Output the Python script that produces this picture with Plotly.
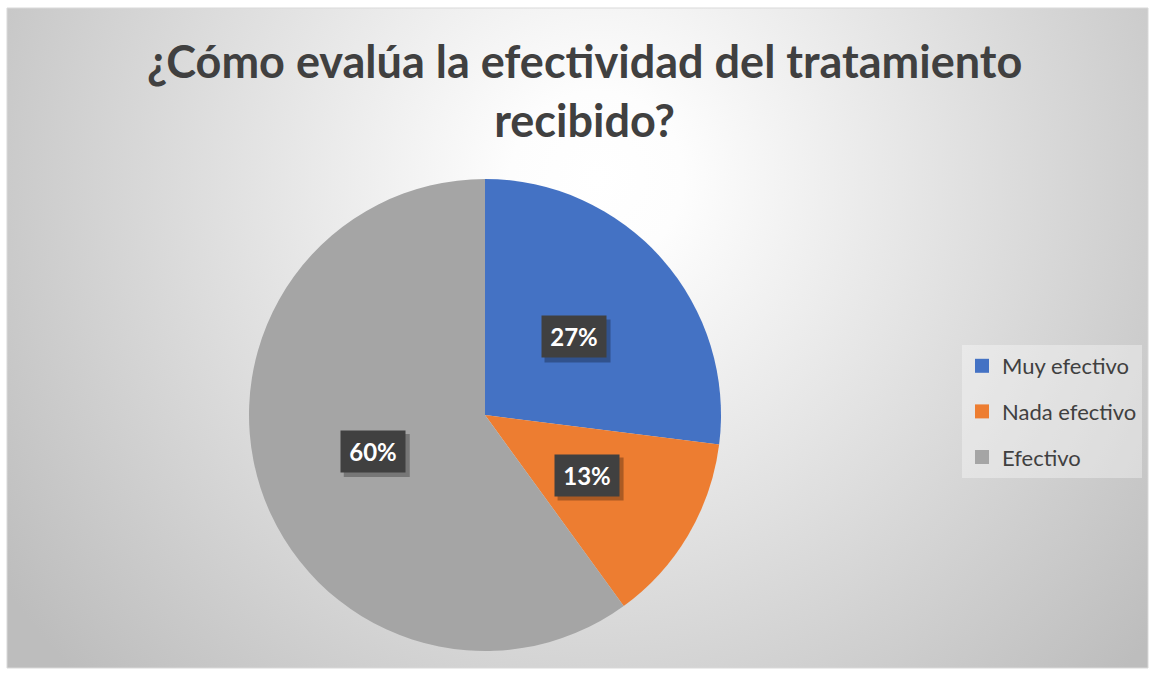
import base64
import numpy as np
import plotly.graph_objects as go

# ---- data ----
categories = ["Muy efectivo", "Nada efectivo", "Efectivo"]
values = [27, 13, 60]
colors = ["#4472C4", "#ED7D31", "#A5A5A5"]
title_lines = ["¿Cómo evalúa la efectividad del tratamiento", "recibido?"]

W, H = 1155, 675
FONT = "Lato"

# pie geometry (pixels)
pie_cx, pie_cy, pie_r = 485, 415, 236
dom_x = [(pie_cx - pie_r) / W, (pie_cx + pie_r) / W]
dom_y = [1 - (pie_cy + pie_r) / H, 1 - (pie_cy - pie_r) / H]

fig = go.Figure()
fig.add_trace(go.Pie(
    labels=categories, values=values, sort=False, direction="clockwise",
    rotation=0, marker=dict(colors=colors, line=dict(width=0)),
    textinfo="none", hoverinfo="label+percent", showlegend=False,
    domain=dict(x=dom_x, y=dom_y),
))

# legend entries
for cat, col in zip(categories, colors):
    fig.add_trace(go.Scatter(
        x=[None], y=[None], mode="markers", name=cat, legendgroup=cat,
        marker=dict(symbol="square", size=14, color=col),
    ))

# percent labels in dark boxes at slice centres
vals = np.array(values, dtype=float)
frac = vals / vals.sum()
mids = (np.cumsum(frac) - frac / 2) * 2 * np.pi
annotations = []
shapes = []
BOX_W, BOX_H, SH = 66, 43, 4
for f, a in zip(frac, mids):
    px = pie_cx + 0.5 * pie_r * np.sin(a)
    py = pie_cy - 0.5 * pie_r * np.cos(a)
    txt = f"<b>{round(f * 100):.0f}%</b>"
    shapes.append(dict(type="rect", xref="paper", yref="paper", layer="above",
                       x0=(px - BOX_W / 2 + SH) / W, x1=(px + BOX_W / 2 + SH) / W,
                       y0=1 - (py + BOX_H / 2 + SH) / H, y1=1 - (py - BOX_H / 2 + SH) / H,
                       fillcolor="rgba(0,0,0,0.28)", line=dict(width=0)))
    annotations.append(dict(text=txt, x=px / W, y=1 - py / H, xref="paper", yref="paper",
                            showarrow=False, xanchor="center", yanchor="middle",
                            width=BOX_W - 2, height=BOX_H - 2, borderpad=0,
                            font=dict(family=FONT, size=24, color="white"),
                            bgcolor="#404040"))

# title
annotations.append(dict(
    text="<b>" + "<br>".join(title_lines) + "</b>", x=585 / W, y=1 - 32 / H,
    xref="paper", yref="paper", xanchor="center", yanchor="top", showarrow=False,
    font=dict(family=FONT, size=45, color="#404040"),
))

# background gradient image
bx0, by0, bx1, by1 = 7, 8, 1148, 668
bw, bh = bx1 - bx0, by1 - by0
svg = f'''<svg xmlns="http://www.w3.org/2000/svg" width="{bw}" height="{bh}" viewBox="0 0 {bw} {bh}">
<defs><radialGradient id="g" gradientUnits="userSpaceOnUse" cx="590" cy="170" r="720">
<stop offset="0" stop-color="#ffffff"/><stop offset="0.12" stop-color="#fdfdfd"/>
<stop offset="1" stop-color="#bdbdbd"/></radialGradient></defs>
<rect width="{bw}" height="{bh}" fill="url(#g)"/></svg>'''
src = "data:image/svg+xml;base64," + base64.b64encode(svg.encode()).decode()

shapes.append(dict(type="rect", xref="paper", yref="paper", x0=bx0 / W, x1=bx1 / W,
                   y0=1 - by1 / H, y1=1 - by0 / H, layer="below",
                   line=dict(color="#D9D9D9", width=1)))

fig.update_layout(
    width=W, height=H, margin=dict(l=0, r=0, t=0, b=0),
    paper_bgcolor="white", plot_bgcolor="rgba(0,0,0,0)",
    xaxis=dict(visible=False), yaxis=dict(visible=False),
    images=[dict(source=src, xref="paper", yref="paper", x=bx0 / W, y=1 - by0 / H,
                 sizex=bw / W, sizey=bh / H, sizing="stretch", layer="below",
                 xanchor="left", yanchor="top")],
    shapes=shapes,
    annotations=annotations,
    legend=dict(x=962 / W, y=1 - 345 / H, xanchor="left", yanchor="top",
                bgcolor="rgba(255,255,255,0.35)", tracegroupgap=14,
                font=dict(family=FONT, size=22, color="#404040"),
                itemclick=False, itemdoubleclick=False),
    showlegend=True,
)

fig.write_html("out.html")
